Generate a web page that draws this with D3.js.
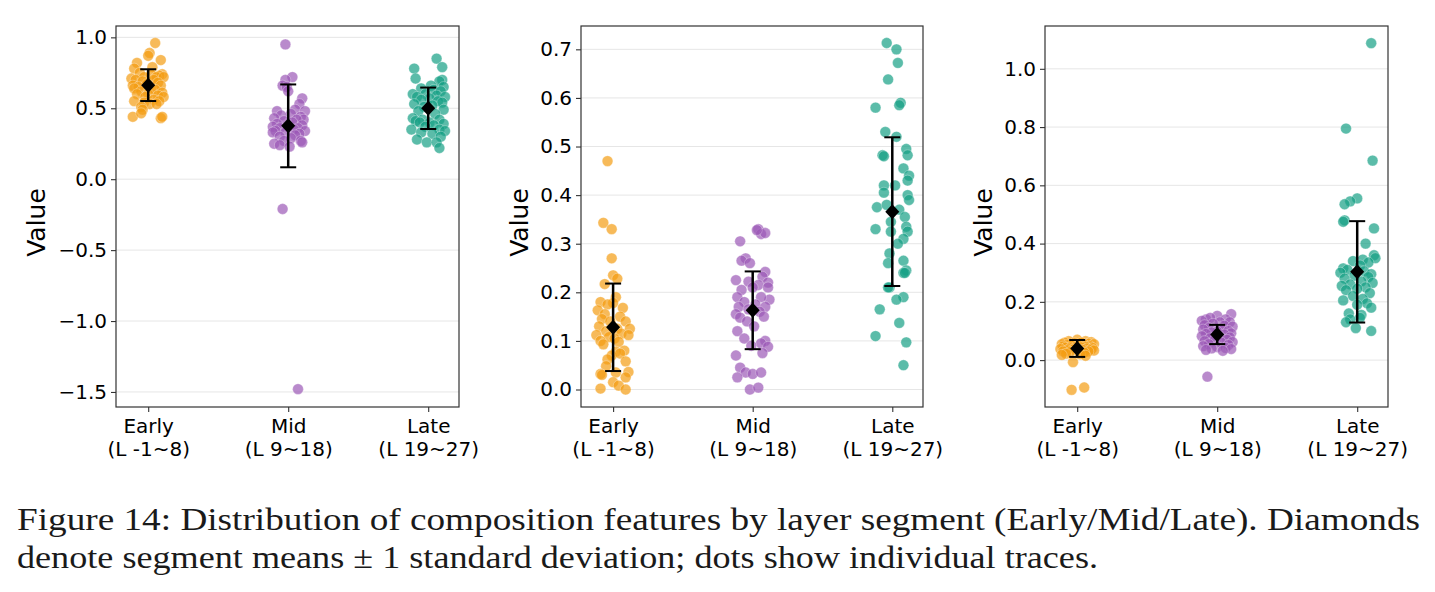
<!DOCTYPE html>
<html>
<head>
<meta charset="utf-8">
<script src="https://cdn.jsdelivr.net/npm/d3@7"></script>
<style>
  body { margin: 0; background: #fff; }
  svg { display: block; }
</style>
</head>
<body>
<svg id="chart" width="1435" height="592"></svg>
<script>
const categories = ["Early", "Mid", "Late"];
const category_ranges = ["(L -1~8)", "(L 9~18)", "(L 19~27)"];
const colors = ["#f39c12", "#9b59b6", "#16a085"];

// each point: [jitter (category units), value]
const p1_early = [[0.05,0.96],[0.01,0.89],[0.0,0.87],[-0.08,0.82],[0.09,0.84],[-0.10,0.78],[0.03,0.79],[-0.12,0.71],[0.10,0.74],[0.08,0.73],[-0.06,0.75],[0.02,0.74],[-0.03,0.72],[0.06,0.72],[0.11,0.72],[-0.09,0.70],[-0.04,0.69],[0.04,0.70],[-0.11,0.66],[0.07,0.68],[-0.01,0.67],[0.09,0.66],[-0.07,0.65],[0.02,0.64],[-0.10,0.64],[0.05,0.63],[0.10,0.61],[-0.05,0.62],[0.0,0.60],[-0.08,0.60],[0.07,0.59],[0.11,0.58],[-0.02,0.58],[0.04,0.56],[-0.10,0.55],[0.08,0.55],[-0.03,0.54],[0.01,0.53],[0.06,0.53],[-0.05,0.51],[-0.04,0.49],[-0.11,0.44],[-0.05,0.465],[0.09,0.43],[0.10,0.44]];
const p1_mid = [[-0.02,0.95],[0.03,0.72],[-0.02,0.70],[-0.04,0.66],[-0.01,0.65],[0.00,0.62],[0.10,0.57],[0.08,0.53],[0.05,0.49],[-0.08,0.48],[0.12,0.48],[0.02,0.46],[-0.05,0.45],[0.09,0.44],[-0.10,0.43],[0.11,0.42],[0.06,0.42],[-0.03,0.41],[0.03,0.40],[-0.08,0.39],[0.10,0.38],[-0.11,0.37],[0.00,0.37],[0.07,0.36],[-0.06,0.36],[0.04,0.35],[-0.09,0.34],[0.12,0.34],[-0.02,0.33],[0.08,0.32],[-0.11,0.33],[0.05,0.31],[-0.06,0.30],[0.02,0.29],[0.09,0.27],[-0.03,0.27],[-0.10,0.25],[-0.06,0.24],[0.10,0.26],[0.01,0.23],[-0.04,-0.21],[0.07,-1.48]];
const p1_late = [[0.06,0.85],[0.10,0.79],[-0.10,0.78],[-0.09,0.71],[0.10,0.70],[0.08,0.69],[0.02,0.66],[0.11,0.65],[-0.05,0.64],[0.04,0.63],[0.09,0.62],[-0.11,0.60],[-0.02,0.60],[0.06,0.59],[0.12,0.58],[-0.08,0.58],[0.01,0.57],[-0.05,0.56],[0.07,0.55],[0.10,0.54],[-0.10,0.53],[0.03,0.52],[-0.03,0.51],[0.11,0.49],[-0.07,0.48],[0.05,0.46],[-0.11,0.43],[-0.04,0.42],[0.08,0.42],[-0.09,0.41],[0.01,0.40],[-0.06,0.40],[0.11,0.39],[0.04,0.38],[-0.02,0.37],[0.08,0.35],[-0.12,0.35],[0.12,0.34],[-0.05,0.33],[0.03,0.32],[0.09,0.30],[-0.08,0.28],[-0.01,0.26],[0.06,0.26],[0.08,0.22]];

const p2_early = [[-0.04,0.47],[-0.07,0.343],[-0.01,0.33],[-0.01,0.27],[0.0,0.235],[0.03,0.228],[-0.06,0.217],[0.02,0.19],[-0.09,0.18],[0.0,0.178],[-0.04,0.175],[0.07,0.168],[-0.11,0.163],[-0.06,0.155],[0.05,0.15],[-0.08,0.145],[0.09,0.14],[-0.02,0.14],[-0.10,0.13],[0.03,0.125],[0.12,0.125],[-0.05,0.12],[0.06,0.115],[-0.12,0.112],[0.11,0.112],[-0.03,0.108],[0.01,0.105],[-0.09,0.10],[0.04,0.098],[-0.07,0.093],[0.08,0.08],[0.02,0.078],[-0.01,0.07],[0.05,0.074],[-0.04,0.062],[0.09,0.058],[-0.05,0.048],[-0.09,0.032],[0.11,0.036],[0.02,0.035],[-0.08,0.03],[0.09,0.025],[0.0,0.015],[0.04,0.008],[-0.09,0.002],[0.09,0.0]];
const p2_mid = [[0.04,0.33],[0.06,0.32],[0.09,0.322],[0.03,0.328],[-0.09,0.305],[-0.05,0.27],[-0.08,0.265],[-0.02,0.26],[0.09,0.242],[-0.12,0.225],[0.07,0.232],[0.11,0.22],[-0.03,0.222],[0.04,0.215],[0.11,0.21],[-0.08,0.205],[0.0,0.21],[-0.11,0.19],[0.12,0.185],[0.06,0.19],[-0.06,0.18],[0.02,0.175],[-0.1,0.17],[0.09,0.17],[-0.03,0.165],[0.05,0.16],[-0.12,0.155],[0.08,0.15],[-0.09,0.148],[-0.04,0.14],[-0.11,0.12],[0.01,0.13],[-0.06,0.105],[0.09,0.1],[0.06,0.095],[-0.01,0.09],[0.11,0.088],[0.07,0.075],[-0.12,0.07],[-0.09,0.045],[-0.05,0.035],[0.0,0.032],[0.06,0.035],[-0.11,0.025],[-0.02,0.0],[0.04,0.004]];
const p2_late = [[-0.04,0.713],[0.03,0.70],[0.04,0.672],[-0.03,0.638],[0.06,0.59],[0.05,0.585],[-0.12,0.58],[-0.05,0.53],[0.03,0.52],[0.10,0.495],[0.11,0.482],[-0.07,0.482],[-0.06,0.48],[0.08,0.455],[0.12,0.44],[0.11,0.43],[-0.06,0.42],[0.02,0.42],[-0.06,0.405],[0.11,0.40],[0.12,0.39],[-0.11,0.375],[-0.04,0.38],[0.05,0.37],[0.09,0.355],[-0.01,0.345],[0.1,0.335],[0.11,0.325],[-0.01,0.325],[-0.12,0.33],[0.08,0.31],[0.04,0.30],[-0.02,0.28],[0.08,0.265],[-0.03,0.26],[0.10,0.245],[0.08,0.24],[0.09,0.24],[-0.02,0.21],[-0.03,0.21],[0.08,0.19],[0.03,0.185],[-0.09,0.165],[0.05,0.137],[-0.12,0.11],[0.1,0.097],[0.08,0.05]];

const p3_early = [[-0.04,-0.102],[0.05,-0.094],[-0.03,-0.007],[0.0,0.07],[-0.06,0.065],[0.06,0.065],[0.1,0.062],[-0.09,0.06],[0.03,0.06],[-0.02,0.058],[0.08,0.056],[-0.11,0.055],[0.12,0.055],[0.05,0.053],[-0.07,0.052],[0.01,0.05],[-0.04,0.05],[0.09,0.048],[-0.1,0.047],[0.06,0.046],[-0.01,0.045],[0.03,0.044],[-0.08,0.043],[0.11,0.042],[-0.05,0.041],[0.07,0.04],[0.0,0.04],[-0.12,0.038],[0.1,0.037],[-0.03,0.036],[0.04,0.035],[-0.07,0.034],[0.12,0.033],[0.02,0.032],[-0.1,0.03],[0.08,0.03],[-0.05,0.028],[0.05,0.026],[-0.08,0.022],[0.02,0.02],[-0.11,0.018],[0.06,0.015]];
const p3_mid = [[-0.07,-0.057],[0.1,0.158],[-0.08,0.14],[0.0,0.152],[-0.05,0.145],[0.06,0.14],[-0.11,0.135],[0.02,0.13],[0.09,0.13],[-0.03,0.125],[-0.09,0.12],[0.05,0.118],[0.11,0.115],[-0.06,0.11],[0.03,0.108],[-0.1,0.105],[0.08,0.1],[0.0,0.098],[-0.04,0.095],[0.1,0.092],[-0.08,0.09],[0.05,0.088],[-0.11,0.082],[0.02,0.08],[0.09,0.078],[-0.05,0.075],[0.07,0.07],[-0.02,0.068],[-0.09,0.065],[0.11,0.062],[0.03,0.06],[-0.06,0.055],[0.08,0.052],[-0.1,0.048],[0.0,0.045],[0.06,0.042],[-0.04,0.04],[0.1,0.038],[-0.08,0.035],[0.04,0.032]];
const p3_late = [[0.1,1.088],[-0.08,0.795],[0.11,0.685],[0.0,0.555],[-0.05,0.545],[-0.09,0.535],[-0.09,0.48],[-0.1,0.475],[0.12,0.452],[0.06,0.40],[0.12,0.36],[0.13,0.35],[0.04,0.345],[-0.03,0.34],[0.08,0.335],[0.02,0.325],[-0.1,0.315],[-0.07,0.31],[0.05,0.305],[-0.12,0.30],[0.1,0.295],[-0.02,0.29],[0.08,0.285],[-0.09,0.28],[0.03,0.27],[0.11,0.265],[-0.05,0.26],[-0.11,0.255],[0.06,0.25],[0.0,0.245],[-0.08,0.24],[0.09,0.23],[-0.03,0.22],[0.04,0.21],[-0.1,0.205],[0.07,0.195],[0.0,0.19],[0.1,0.18],[-0.06,0.16],[0.03,0.155],[0.02,0.145],[-0.05,0.14],[-0.08,0.13],[-0.01,0.11],[0.1,0.1]];

const p1_means = [0.663, 0.376, 0.50];
const p1_sds = [0.112, 0.292, 0.146];
const p2_means = [0.128, 0.163, 0.366];
const p2_sds = [0.09, 0.08, 0.153];
const p3_means = [0.040, 0.088, 0.303];
const p3_sds = [0.029, 0.033, 0.174];

const p1_ticks = [-1.5, -1.0, -0.5, 0.0, 0.5, 1.0];
const p2_ticks = [0.0, 0.1, 0.2, 0.3, 0.4, 0.5, 0.6, 0.7];
const p3_ticks = [0.0, 0.2, 0.4, 0.6, 0.8, 1.0];

const p1_domain = [-1.606, 1.08];
const p2_domain = [-0.036, 0.748];
const p3_domain = [-0.161, 1.147];

const caption_lines = [
  "Figure 14: Distribution of composition features by layer segment (Early/Mid/Late). Diamonds",
  "denote segment means \u00b1 1 standard deviation; dots show individual traces."
];

const panels = [
  { groups: [p1_early, p1_mid, p1_late], means: p1_means, sds: p1_sds, ticks: p1_ticks, domain: p1_domain, left: 116, right: 459, label_x: 36 },
  { groups: [p2_early, p2_mid, p2_late], means: p2_means, sds: p2_sds, ticks: p2_ticks, domain: p2_domain, left: 581, right: 923, label_x: 519 },
  { groups: [p3_early, p3_mid, p3_late], means: p3_means, sds: p3_sds, ticks: p3_ticks, domain: p3_domain, left: 1045, right: 1388, label_x: 983 }
];

const plot_top = 26, plot_bottom = 407;
const font = "'DejaVu Sans', sans-serif";

function build_panel(svg, panel) {
  const x = d3.scaleLinear().domain([-0.23, 2.22]).range([panel.left, panel.right]);
  const y = d3.scaleLinear().domain(panel.domain).range([plot_bottom, plot_top]);

  const g = svg.append("g");

  g.append("g")
    .selectAll("line")
    .data(panel.ticks)
    .enter()
    .append("line")
    .attr("x1", panel.left)
    .attr("x2", panel.right)
    .attr("y1", d => y(d))
    .attr("y2", d => y(d))
    .style("stroke", "#e6e6e6")
    .style("stroke-width", 1);

  panel.groups.forEach((pts, i) => {
    g.append("g")
      .selectAll("circle")
      .data(pts)
      .enter()
      .append("circle")
      .attr("cx", d => x(i + d[0]))
      .attr("cy", d => y(d[1]))
      .attr("r", 5.4)
      .style("fill", colors[i])
      .style("fill-opacity", 0.7)
      .style("stroke", "#fff")
      .style("stroke-opacity", 0.6)
      .style("stroke-width", 0.5);
  });

  const stats = panel.means.map((m, i) => ({ i, m, s: panel.sds[i] }));
  const err = g.append("g").style("stroke", "#000").style("stroke-width", 2.5);

  err.selectAll(".bar").data(stats).enter().append("line")
    .attr("x1", d => x(d.i)).attr("x2", d => x(d.i))
    .attr("y1", d => y(d.m - d.s)).attr("y2", d => y(d.m + d.s));
  err.selectAll(".cap-top").data(stats).enter().append("line")
    .attr("x1", d => x(d.i) - 8).attr("x2", d => x(d.i) + 8)
    .attr("y1", d => y(d.m + d.s)).attr("y2", d => y(d.m + d.s))
    .style("stroke-width", 2);
  err.selectAll(".cap-bottom").data(stats).enter().append("line")
    .attr("x1", d => x(d.i) - 8).attr("x2", d => x(d.i) + 8)
    .attr("y1", d => y(d.m - d.s)).attr("y2", d => y(d.m - d.s))
    .style("stroke-width", 2);

  g.append("g")
    .selectAll("path")
    .data(stats)
    .enter()
    .append("path")
    .attr("d", d => {
      const cx = x(d.i), cy = y(d.m);
      return `M${ cx },${ cy - 7.5 }L${ cx + 7 },${ cy }L${ cx },${ cy + 7.5 }L${ cx - 7 },${ cy }Z`;
    })
    .style("fill", "#000");

  const yAxis = g.append("g")
    .attr("transform", `translate(${ panel.left }, 0)`)
    .call(d3.axisLeft(y).tickValues(panel.ticks).tickFormat(d3.format(".1f")).tickSize(5).tickPadding(4));
  yAxis.select(".domain").remove();
  yAxis.selectAll("text").style("font-family", font).style("font-size", "20px").style("fill", "#000");
  yAxis.selectAll("line").style("stroke", "#333").style("stroke-width", 1.1);

  const xAxis = g.append("g")
    .attr("transform", `translate(0, ${ plot_bottom })`)
    .call(d3.axisBottom(x).tickValues([0, 1, 2]).tickFormat(() => "").tickSize(5));
  xAxis.select(".domain").remove();
  xAxis.selectAll("line").style("stroke", "#333").style("stroke-width", 1.1);
  xAxis.selectAll(".tick text").each(function(d) {
    const t = d3.select(this)
      .attr("y", 0)
      .attr("dy", null)
      .style("font-family", font)
      .style("font-size", "20px")
      .style("fill", "#000");
    t.append("tspan").attr("x", 0).attr("y", 26).text(categories[d]);
    t.append("tspan").attr("x", 0).attr("y", 49).text(category_ranges[d]);
  });

  g.append("rect")
    .attr("x", panel.left)
    .attr("y", plot_top)
    .attr("width", panel.right - panel.left)
    .attr("height", plot_bottom - plot_top)
    .style("fill", "none")
    .style("stroke", "#333")
    .style("stroke-width", 1.2);

  g.append("text")
    .attr("transform", `translate(${ panel.label_x }, ${ (plot_top + plot_bottom) / 2 + 6 }) rotate(-90)`)
    .attr("text-anchor", "middle")
    .attr("dy", "0.35em")
    .style("font-family", font)
    .style("font-size", "25px")
    .style("fill", "#000")
    .text("Value");
}

const svg = d3.select("#chart");
svg.append("rect").attr("width", 1435).attr("height", 592).style("fill", "#fff");

panels.forEach(p => build_panel(svg, p));

const caption = svg.append("g")
  .style("font-family", "'Liberation Serif', 'DejaVu Serif', serif")
  .style("font-size", "31px")
  .style("fill", "#1a1a1a");

caption.append("text")
  .attr("x", 17)
  .attr("y", 530)
  .attr("textLength", 1403)
  .attr("lengthAdjust", "spacingAndGlyphs")
  .text(caption_lines[0]);

caption.append("text")
  .attr("x", 17)
  .attr("y", 568)
  .attr("textLength", 1081)
  .attr("lengthAdjust", "spacingAndGlyphs")
  .text(caption_lines[1]);
</script>
</body>
</html>
